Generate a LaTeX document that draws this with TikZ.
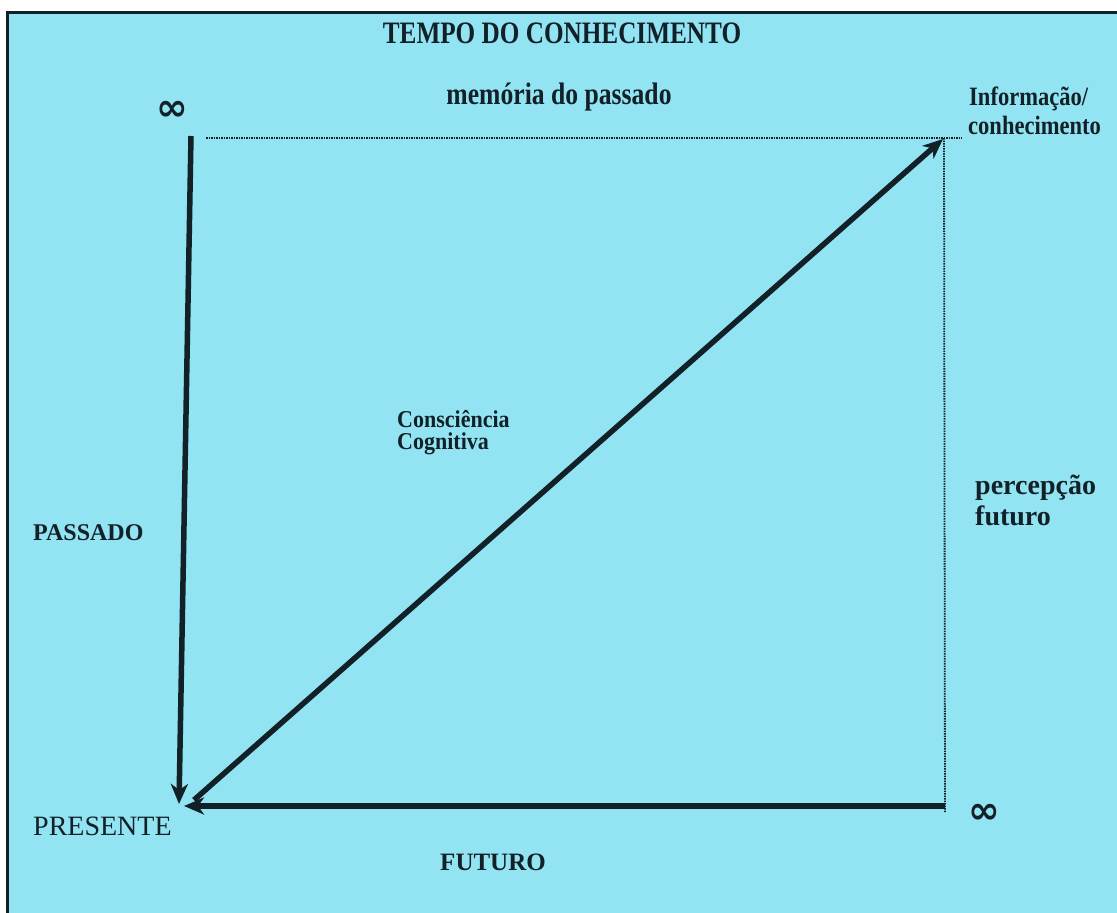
\documentclass[tikz,border=0pt]{standalone}
\usepackage{fontspec}
\setmainfont{Liberation Serif}
\newfontfamily\symfont{DejaVu Sans}
\usetikzlibrary{arrows.meta}
\definecolor{bgcyan}{RGB}{146,228,242}
\definecolor{ink}{RGB}{18,32,40}
\tikzset{
  lbl/.style={text=ink, inner sep=0pt, anchor=west},
  thick arrow/.style={line width=5.5pt, draw=ink, -{Stealth[length=20pt,width=17pt,inset=6pt]}},
  dotline/.style={line width=1.8pt, draw=ink, dash pattern=on 1.5pt off 1pt},
  infsym/.style={text=ink, inner sep=0pt, font=\symfont\bfseries\fontsize{38}{40}\selectfont},
}
\begin{document}
\begin{tikzpicture}[x=1pt,y=-1pt]
\useasboundingbox (0,0) rectangle (1117,913);
\fill[white] (0,0) rectangle (1117,913);
\filldraw[fill=bgcyan, draw=ink, line width=3pt] (7,12) rectangle (1130,930);

% texts
\node[text=ink, inner sep=0pt, font=\bfseries\fontsize{26}{30}\selectfont] (title) at (562,33) {\scalebox{0.97}[1.2]{TEMPO DO CONHECIMENTO}};
\node[text=ink, inner sep=0pt, font=\bfseries\fontsize{27}{30}\selectfont] (mem) at (559,97) {\scalebox{0.95}[1.15]{memória do passado}};
\node[infsym] (inf1) at (172,111) {∞};
\node[infsym] (inf2) at (984,814) {∞};
\node[lbl, font=\bfseries\fontsize{23}{26}\selectfont] (info) at (969,99) {\scalebox{0.98}[1.15]{Informação/}};
\node[lbl, font=\bfseries\fontsize{23}{26}\selectfont] (conh) at (968,125) {\scalebox{0.98}[1.15]{conhecimento}};
\node[lbl, font=\bfseries\fontsize{22}{26}\selectfont] (consc) at (397,419) {\scalebox{1}[1.1]{Consciência}};
\node[lbl, font=\bfseries\fontsize{22}{26}\selectfont] (cogn) at (397,444) {\scalebox{1}[1.1]{Cognitiva}};
\node[lbl, font=\bfseries\fontsize{28}{30}\selectfont] (perc) at (975,488) {percepção};
\node[lbl, font=\bfseries\fontsize{28}{30}\selectfont] (fut) at (975,516) {futuro};
\node[lbl, font=\bfseries\fontsize{24}{28}\selectfont] (pass) at (33,533) {PASSADO};
\node[lbl, font=\fontsize{28}{30}\selectfont] (pres) at (33,826) {PRESENTE};
\node[text=ink, inner sep=0pt, font=\bfseries\fontsize{25}{28}\selectfont] (futuro) at (493,862) {FUTURO};

% corner coordinates
\coordinate (dl) at (206,138);
\coordinate (tr) at (944,138);
\coordinate (trd) at (962,138);
\coordinate (br) at (945,806);
\coordinate (brd) at (945,812);
\coordinate (vt) at (191,136);
\coordinate (vb) at (179,804);
\coordinate (dstart) at (194,800);
\coordinate (dend) at (943,139);
\coordinate (hend) at (184,806);

% dotted lines
\draw[dotline] (dl) -- (trd);
\draw[dotline] (tr) -- (brd);

% arrows
\draw[thick arrow] (vt) -- (vb);
\draw[thick arrow] (dstart) -- (dend);
\draw[thick arrow] (br) -- (hend);
\end{tikzpicture}
\end{document}
